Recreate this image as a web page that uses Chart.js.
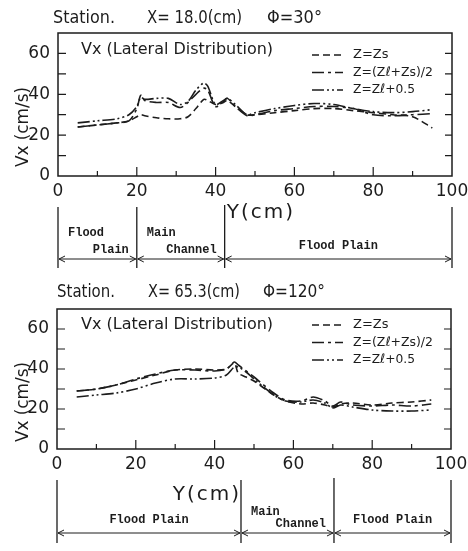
<!DOCTYPE html>
<html>
<head>
<meta charset="utf-8">
<script src="https://cdn.jsdelivr.net/npm/chart.js@4.4.1/dist/chart.umd.min.js"></script>
<style>
  body { margin: 0; background: #fff; width: 468px; height: 551px; overflow: hidden; position: relative; }
  canvas { position: absolute; left: 0; }
  #topChart { top: 0; }
  #bottomChart { top: 275px; }
</style>
</head>
<body>
<canvas id="topChart" width="468" height="275"></canvas>
<canvas id="bottomChart" width="468" height="276"></canvas>
<script>
// Legend labels (Z = Zs, mid depth, Zl + 0.5)
const seriesLabels = ['Z=Zs', 'Z=(Zℓ+Zs)/2', 'Z=Zℓ+0.5'];
const xTickLabels = [0, 20, 40, 60, 80, 100];
const yTickLabels = [0, 20, 40, 60];

// Station X = 18.0 cm, phi = 30
const topY   = [5, 10, 15, 18, 20, 21, 22, 25, 28, 31, 33, 35, 37, 38, 40, 42, 43, 45, 48, 50, 55, 60, 65, 70, 75, 80, 85, 90, 95];
const topZs  = [24, 25, 26, 27, 29, 30, 29.5, 28.5, 28, 28, 29, 33, 37.5, 37, 35, 36, 37, 34, 30, 30, 31, 32, 33, 33, 32, 31, 30, 29, 23.5];
const topZm  = [24, 25, 26, 27, 33, 39.5, 37, 36, 36, 33.5, 36, 40, 43, 42, 34, 36.5, 38, 34, 29.5, 30, 32, 33, 34, 34, 33, 30, 29.5, 30, 30.5];
const topZl  = [26, 27, 28, 30, 34, 38.5, 37.5, 38, 38, 35, 36.5, 42, 45.5, 44, 35, 37, 38, 35, 30, 31, 33, 34.5, 35.5, 35, 33, 31.5, 31, 31.5, 32.5];
const topBounds = [0, 20, 42.3, 100];
const topRegions = [['Flood', 'Plain'], ['Main', 'Channel'], ['Flood Plain']];

// Station X = 65.3 cm, phi = 120
const botY   = [5, 10, 15, 20, 25, 30, 35, 40, 43, 45, 46, 48, 50, 55, 58, 62, 65, 68, 70, 72, 75, 80, 85, 90, 95];
const botZs  = [29, 30, 32, 34.5, 37, 39.5, 40, 39.5, 40, 43, 38, 36, 34, 27, 24, 22.5, 23, 22, 21, 22.5, 23, 22, 23, 23.5, 24.5];
const botZm  = [29, 30, 32, 35, 37.5, 39.5, 39.5, 39, 40, 43.5, 42, 39, 36, 28, 24.5, 24, 26, 24, 21.5, 23.5, 22, 21.5, 22, 21.5, 22.5];
const botZl  = [26, 27, 28, 30, 33, 35, 35, 35.5, 37, 41, 41, 38.5, 35, 27, 24, 23.5, 24.5, 23, 20.5, 22, 21, 19.5, 19, 19, 19.5];
const botBounds = [0, 46.7, 70.3, 100];
const botRegions = [['Flood Plain'], ['Main', 'Channel'], ['Flood Plain']];

const ink = '#1c1c1c';
const dashes = [[7, 4], [12, 4, 3, 4], [12, 3, 2, 3, 2, 3]];
const sans = '"DejaVu Sans", sans-serif';
const mono = '"Liberation Mono", "DejaVu Sans Mono", monospace';

function arrowHead(ctx, x, y, dir) {
  ctx.moveTo(x + dir * 6, y - 3);
  ctx.lineTo(x, y);
  ctx.lineTo(x + dir * 6, y + 3);
}

// draws the frame, inward ticks, titles, legend and the region strip
const decor = {
  id: 'decor',
  afterDraw(chart, args, o) {
    const { ctx, chartArea: a, scales: { x, y } } = chart;
    ctx.save();
    ctx.strokeStyle = ink;
    ctx.fillStyle = ink;
    ctx.setLineDash([]);

    ctx.lineWidth = 1.5;
    ctx.strokeRect(a.left, a.top, a.right - a.left, a.bottom - a.top);

    ctx.lineWidth = 1.2;
    ctx.beginPath();
    for (let v = 10; v < 100; v += 10) {
      const px = x.getPixelForValue(v);
      const len = v % 20 === 0 ? 9 : 5;
      ctx.moveTo(px, a.bottom);
      ctx.lineTo(px, a.bottom - len);
    }
    for (let v = 10; v < 70; v += 10) {
      const py = y.getPixelForValue(v);
      ctx.moveTo(a.left, py); ctx.lineTo(a.left + 8, py);
      ctx.moveTo(a.right, py); ctx.lineTo(a.right - 7, py);
    }
    ctx.stroke();

    // title line
    ctx.textBaseline = 'middle';
    ctx.textAlign = 'left';
    ctx.font = '17px ' + sans;
    o.title.forEach(t => ctx.fillText(t.text, t.x, o.titleY, t.w));

    ctx.font = '16px ' + sans;
    ctx.fillText('Vx (Lateral Distribution)', 81, o.innerY, 196);

    // legend
    chart.data.datasets.forEach((ds, i) => {
      const ly = o.legendY + i * 17.5;
      ctx.lineWidth = 1.5;
      ctx.setLineDash(dashes[i]);
      ctx.beginPath();
      ctx.moveTo(312, ly);
      ctx.lineTo(343, ly);
      ctx.stroke();
      ctx.setLineDash([]);
      ctx.font = '13px ' + sans;
      ctx.fillText(ds.label, 353, ly, i === 1 ? 80 : 62);
    });

    // y axis title
    ctx.save();
    ctx.translate(23, 127);
    ctx.rotate(-Math.PI / 2);
    ctx.textAlign = 'center';
    ctx.font = '18px ' + sans;
    ctx.fillText('Vx (cm/s)', 0, 0, 80);
    ctx.restore();

    // x axis title
    ctx.textAlign = 'center';
    ctx.font = '20px ' + sans;
    ctx.letterSpacing = '2px';
    ctx.fillText('Y(cm)', o.yTitle.x, o.yTitle.y);
    ctx.letterSpacing = '0px';

    // region strip under the axis
    const b = o.bounds.map(v => x.getPixelForValue(v));
    ctx.lineWidth = 1.3;
    ctx.beginPath();
    b.forEach((px, i) => {
      ctx.moveTo(px, o.strip.top - (i === 2 ? 2 : 0));
      ctx.lineTo(px, o.strip.bottom);
    });
    ctx.stroke();
    ctx.lineWidth = 1;
    ctx.beginPath();
    for (let i = 0; i < b.length - 1; i++) {
      const l = b[i] + 1, r = b[i + 1] - 1;
      ctx.moveTo(l, o.strip.arrow);
      ctx.lineTo(r, o.strip.arrow);
      arrowHead(ctx, l, o.strip.arrow, 1);
      arrowHead(ctx, r, o.strip.arrow, -1);
    }
    ctx.stroke();

    ctx.font = 'bold 12px ' + mono;
    o.regions.forEach((lines, i) => {
      const l = b[i], r = b[i + 1];
      if (lines.length === 1) {
        ctx.textAlign = 'center';
        ctx.fillText(lines[0], (l + r) / 2, o.strip.arrow - 13);
      } else {
        ctx.textAlign = 'left';
        ctx.fillText(lines[0], l + 10, o.strip.arrow - o.twoLine);
        ctx.textAlign = 'right';
        ctx.fillText(lines[1], r - 8, o.strip.arrow - 9);
      }
    });
    ctx.restore();
  }
};

function build(id, cfg) {
  const H = document.getElementById(id).height;
  const series = cfg.series.map((vals, i) => ({
    label: seriesLabels[i],
    data: cfg.xs.map((v, j) => ({ x: v, y: vals[j] })),
    borderColor: ink,
    borderWidth: 1.6,
    borderDash: dashes[i],
    pointRadius: 0,
    tension: 0.3,
    fill: false
  }));
  return new Chart(document.getElementById(id), {
    type: 'line',
    data: { datasets: series },
    options: {
      responsive: false,
      animation: false,
      devicePixelRatio: 1,
      layout: { padding: { top: cfg.area.top, right: 468 - cfg.area.right, left: 0, bottom: 0 } },
      plugins: { legend: { display: false }, tooltip: { enabled: false }, decor: cfg },
      scales: {
        x: {
          type: 'linear', min: 0, max: 100,
          grid: { display: false, drawTicks: false },
          border: { display: false },
          ticks: {
            stepSize: 20, padding: 5, color: ink, maxRotation: 0,
            font: { family: sans, size: 17 },
            callback: v => xTickLabels.includes(v) ? v : ''
          },
          afterFit(s) { s.height = H - cfg.area.bottom; s.paddingLeft = 0; s.paddingRight = 0; }
        },
        y: {
          min: 0, max: 70,
          grid: { display: false, drawTicks: false },
          border: { display: false },
          ticks: {
            stepSize: 20, padding: 8, color: ink,
            font: { family: sans, size: 17 },
            callback: v => yTickLabels.includes(v) ? v : ''
          },
          afterFit(s) { s.width = cfg.area.left; s.paddingTop = 0; s.paddingBottom = 0; }
        }
      }
    },
    plugins: [decor]
  });
}

build('topChart', {
  xs: topY,
  series: [topZs, topZm, topZl],
  area: { left: 58, right: 452, top: 33, bottom: 176 },
  title: [{ text: 'Station.', x: 53, w: 62 }, { text: 'X= 18.0(cm)', x: 147, w: 95 }, { text: 'Φ=30°', x: 267, w: 55 }],
  titleY: 19,
  innerY: 50,
  legendY: 55,
  yTitle: { x: 261, y: 213 },
  bounds: topBounds,
  regions: topRegions,
  strip: { top: 207, bottom: 268, arrow: 259 },
  twoLine: 26
});

build('bottomChart', {
  xs: botY,
  series: [botZs, botZm, botZl],
  area: { left: 57, right: 451, top: 34, bottom: 174 },
  title: [{ text: 'Station.', x: 57, w: 58 }, { text: 'X= 65.3(cm)', x: 148, w: 92 }, { text: 'Φ=120°', x: 263, w: 62 }],
  titleY: 18,
  innerY: 50,
  legendY: 50,
  yTitle: { x: 207, y: 220 },
  bounds: botBounds,
  regions: botRegions,
  strip: { top: 205, bottom: 268, arrow: 258 },
  twoLine: 21
});
</script>
</body>
</html>
